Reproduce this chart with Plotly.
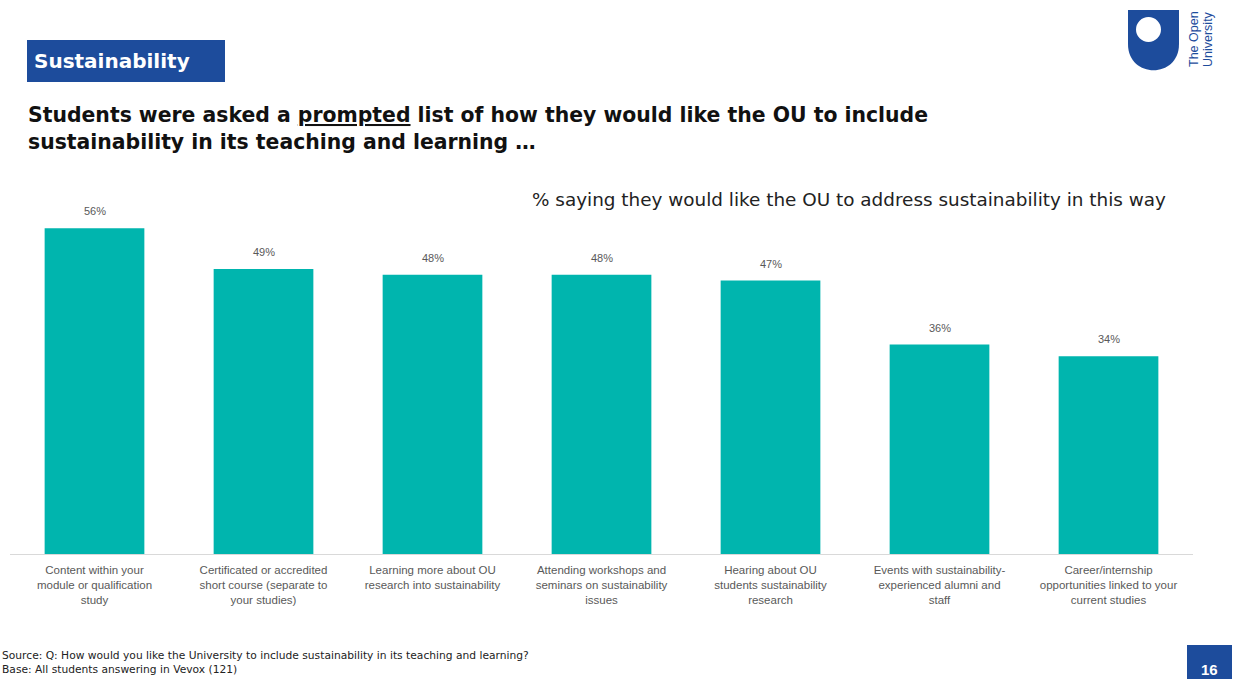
import plotly.graph_objects as go

categories = [
    "Content within your<br>module or qualification<br>study",
    "Certificated or accredited<br>short course (separate to<br>your studies)",
    "Learning more about OU<br>research into sustainability",
    "Attending workshops and<br>seminars on sustainability<br>issues",
    "Hearing about OU<br>students sustainability<br>research",
    "Events with sustainability-<br>experienced alumni and<br>staff",
    "Career/internship<br>opportunities linked to your<br>current studies",
]
values = [56, 49, 48, 48, 47, 36, 34]
value_labels = ["56%", "49%", "48%", "48%", "47%", "36%", "34%"]

W, H = 1239, 679
BLUE = "#1D4C9C"
TEAL = "#00B5AE"
FONT = "Liberation Sans, Arial, sans-serif"
WIDE = "DejaVu Sans, Verdana, sans-serif"


def px(x):
    return x / W


def py(y):
    return 1 - y / H


fig = go.Figure()
fig.add_trace(go.Bar(
    x=categories, y=values, marker=dict(color=TEAL, line=dict(width=0)),
    hoverinfo="skip",
))

annotations = []
for c, v, t in zip(categories, values, value_labels):
    annotations.append(dict(
        x=c, y=v, xref="x", yref="y", text=t, showarrow=False,
        yanchor="bottom", yshift=9,
        font=dict(family=FONT, size=11, color="#595959"),
    ))

# Section tag
annotations.append(dict(
    x=px(32), y=py(61), xref="paper", yref="paper", xanchor="left", yanchor="middle",
    text="<b>Sustainability</b>", showarrow=False,
    font=dict(family=WIDE, size=20, color="white"),
))
# Headline
annotations.append(dict(
    x=px(26), y=py(101), xref="paper", yref="paper", xanchor="left", yanchor="top",
    align="left", showarrow=False,
    text="<b>Students were asked a <u>prompted</u> list of how they would like the OU to include"
         "<br>sustainability in its teaching and learning \u2026</b>",
    font=dict(family=WIDE, size=20.4, color="#111111"),
))
# Subtitle
annotations.append(dict(
    x=px(1168), y=py(199), xref="paper", yref="paper", xanchor="right", yanchor="middle",
    showarrow=False,
    text="% saying they would like the OU to address sustainability in this way",
    font=dict(family=WIDE, size=18.4, color="#222222"),
))
# Footer
annotations.append(dict(
    x=px(0), y=py(647), xref="paper", yref="paper", xanchor="left", yanchor="top",
    align="left", showarrow=False,
    text="Source: Q: How would you like the University to include sustainability in its teaching and learning?"
         "<br>Base: All students answering in Vevox (121)",
    font=dict(family=WIDE, size=10.7, color="#222222"),
))
# Page number
annotations.append(dict(
    x=px(1209.5), y=py(669), xref="paper", yref="paper", xanchor="center", yanchor="middle",
    showarrow=False, text="<b>16</b>",
    font=dict(family=FONT, size=15, color="white"),
))
# Logo text
annotations.append(dict(
    x=px(1194), y=py(39), xref="paper", yref="paper", xanchor="center", yanchor="middle",
    showarrow=False, text="The Open", textangle=-90,
    font=dict(family=FONT, size=12.5, color=BLUE),
))
annotations.append(dict(
    x=px(1208), y=py(39), xref="paper", yref="paper", xanchor="center", yanchor="middle",
    showarrow=False, text="University", textangle=-90,
    font=dict(family=FONT, size=12.5, color=BLUE),
))

shapes = [
    dict(type="rect", xref="paper", yref="paper", x0=px(27), x1=px(225), y0=py(82), y1=py(40),
         fillcolor=BLUE, line=dict(width=0), layer="below"),
    dict(type="rect", xref="paper", yref="paper", x0=px(1187), x1=px(1232), y0=py(679), y1=py(645),
         fillcolor=BLUE, line=dict(width=0), layer="below"),
]
# Logo shield: flat top, rounded bottom
x0, x1, ytop, ymid = 1128, 1179, 10, 44
path = (f"M {px(x0)},{py(ytop)} L {px(x1)},{py(ytop)} L {px(x1)},{py(ymid)} "
        f"C {px(x1)},{py(ymid + 35)} {px(x0)},{py(ymid + 35)} {px(x0)},{py(ymid)} Z")
shapes.append(dict(type="path", xref="paper", yref="paper", path=path,
                   fillcolor=BLUE, line=dict(width=0)))
shapes.append(dict(type="circle", xref="paper", yref="paper",
                   x0=px(1136), x1=px(1161), y0=py(42), y1=py(17),
                   fillcolor="white", line=dict(width=0)))

fig.update_layout(
    width=W, height=H,
    margin=dict(l=0, r=0, t=0, b=0),
    paper_bgcolor="white", plot_bgcolor="white",
    showlegend=False,
    bargap=0.41,
    annotations=annotations,
    shapes=shapes,
    font=dict(family=FONT),
    xaxis=dict(
        domain=[px(10), px(1193)],
        showline=True, linecolor="#D9D9D9", linewidth=1,
        showgrid=False, ticks="", ticklabelstandoff=5,
        tickfont=dict(family=FONT, size=11.5, color="#595959"),
        fixedrange=True,
    ),
    yaxis=dict(
        domain=[py(554), py(554 - 349)],
        range=[0, 60], visible=False, showgrid=False, fixedrange=True,
    ),
)

fig.write_html("out.html", config={"displayModeBar": False})
